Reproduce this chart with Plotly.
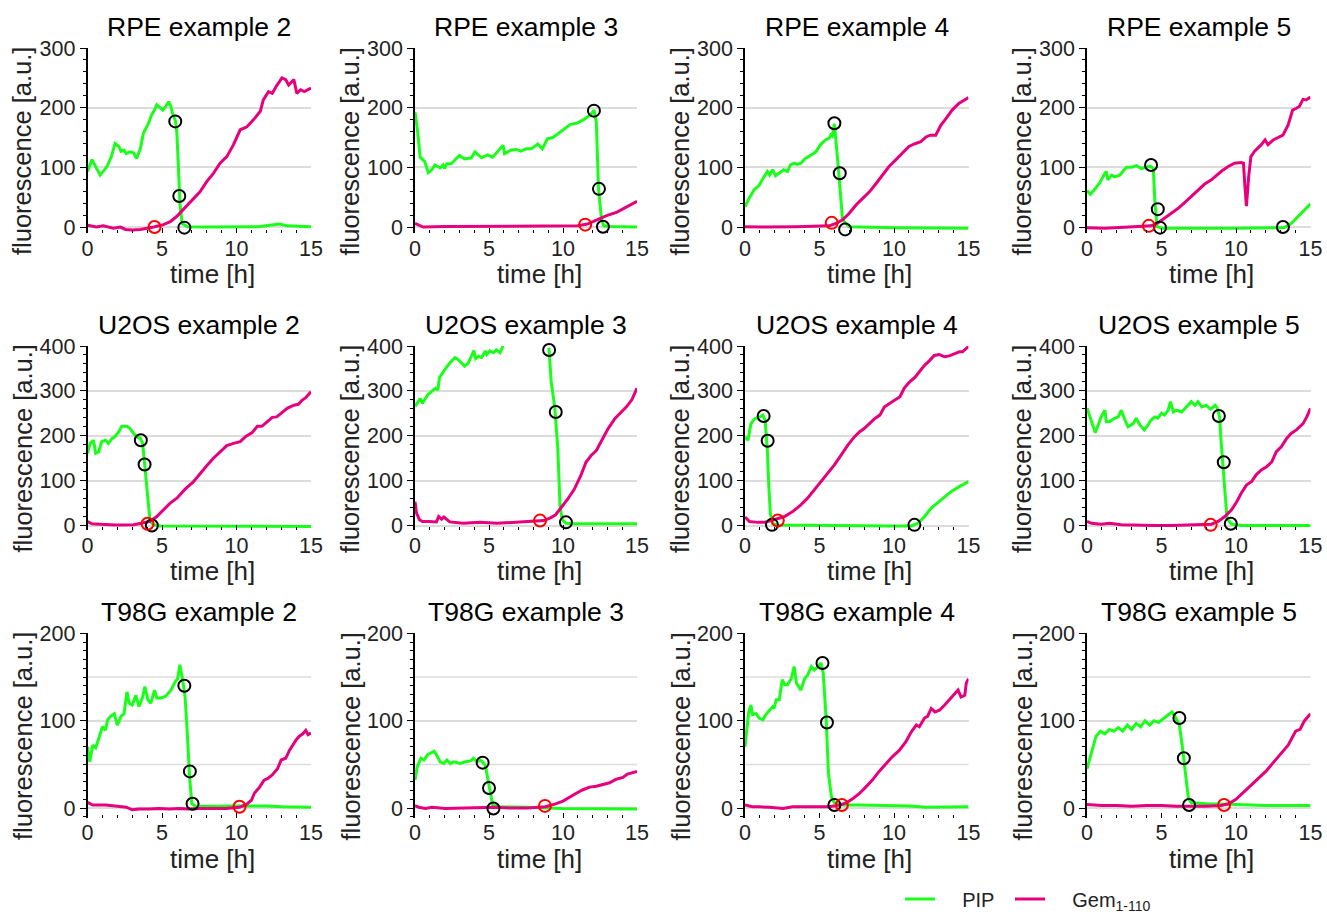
import plotly.graph_objects as go

W, H = 1327, 916
GREEN = '#1aff1a'
PINK = '#e6007e'
FONT = 'Liberation Sans, Arial, sans-serif'

# each series: (time [h], fluorescence [a.u.])
rpe2_pip = [(0, 93), (0.3, 113), (0.85, 87), (1.3, 101), (1.6, 118), (1.85, 140), (2.1, 135), (2.25, 127),
            (2.45, 129), (2.6, 123), (2.85, 126), (3.1, 124), (3.3, 115), (3.55, 132), (3.75, 157), (4.1, 174),
            (4.3, 188), (4.5, 196), (4.65, 205), (4.9, 199), (5.05, 196), (5.25, 202), (5.45, 210), (5.6, 202),
            (5.7, 191), (5.9, 178), (6.0, 157), (6.1, 101), (6.2, 40), (6.35, 6), (6.7, 0.5), (8, 0), (10, 0),
            (11.5, 0.5), (12.2, 3), (12.9, 5), (13.4, 2), (14, 1), (15, 0.5)]
rpe2_gem = [(0, 3), (0.3, 2), (0.6, 0), (1.05, 2), (1.75, -2), (2.2, 0), (2.55, -4), (3, -5), (3.55, -4),
            (4.45, 0), (5.1, 4), (5.55, 9), (6, 18), (6.45, 30), (7, 44), (7.55, 59), (8, 76), (8.45, 90),
            (8.9, 107), (9.35, 118), (9.8, 138), (10.25, 163), (10.7, 168), (11.15, 180), (11.6, 194),
            (11.8, 213), (12.15, 227), (12.4, 224), (12.7, 237), (13.05, 250), (13.3, 247), (13.5, 238),
            (13.85, 247), (14.05, 224), (14.3, 230), (14.55, 227), (15, 233)]
rpe2_pip_marks = [(5.89, 177), (6.16, 52), (6.5, -1)]
rpe2_gem_marks = [(4.5, 0)]

rpe3_pip = [(0, 193), (0.18, 160), (0.35, 117), (0.65, 110), (0.9, 91), (1.1, 95), (1.35, 104), (1.7, 99),
            (1.9, 104), (2.0, 98), (2.15, 106), (2.45, 106), (3.0, 120), (3.35, 114), (3.8, 116), (4.05, 126),
            (4.5, 116), (4.9, 121), (5.25, 117), (5.7, 129), (5.95, 137), (6.05, 123), (6.5, 129), (6.85, 130),
            (7.15, 127), (7.5, 131), (7.85, 131), (8.3, 139), (8.6, 131), (8.95, 148), (9.3, 150), (9.6, 155),
            (10.05, 163), (10.5, 172), (10.95, 174), (11.4, 180), (11.85, 188), (12.1, 196), (12.25, 176),
            (12.4, 64), (12.6, 13), (12.75, 2), (13.2, 1), (15, 0)]
rpe3_gem = [(0, 6), (0.55, 0), (2, 1), (4, 1), (6, 1.5), (8, 1.5), (10, 2), (11, 2), (11.65, 5), (12.3, 12),
            (12.95, 19), (13.65, 25), (14.3, 34), (15, 43)]
rpe3_pip_marks = [(12.09, 195), (12.43, 64), (12.7, 0.5)]
rpe3_gem_marks = [(11.5, 4)]

rpe4_pip = [(0, 34), (0.27, 48), (0.6, 62), (0.95, 70), (1.15, 79), (1.4, 90), (1.5, 93), (1.65, 87),
            (1.85, 96), (2.05, 86), (2.4, 93), (2.6, 96), (2.85, 93), (3.05, 104), (3.3, 107), (3.5, 105),
            (3.75, 107), (4.05, 115), (4.4, 120), (4.75, 126), (5.1, 139), (5.4, 146), (5.65, 149), (5.75, 154),
            (5.85, 152), (6.0, 173), (6.2, 118), (6.4, 51), (6.55, 12), (7, 0.5), (10.1, -1), (15, -2)]
rpe4_gem = [(0, 0.5), (1.2, 0), (3.4, 0.5), (5.2, 1), (5.65, 2), (6.1, 6), (6.55, 12), (7, 23), (7.45, 37),
            (7.9, 48), (8.35, 59), (8.8, 73), (9.2, 87), (9.65, 101), (10.1, 112), (10.55, 123), (11, 135),
            (11.45, 140), (11.8, 143), (12.15, 151), (12.45, 154), (12.8, 154), (13.15, 171), (13.5, 182),
            (13.9, 196), (14.35, 207), (15, 217)]
rpe4_pip_marks = [(6.0, 174), (6.36, 90), (6.72, -4)]
rpe4_gem_marks = [(5.82, 7)]

rpe5_pip = [(0, 61), (0.22, 55), (0.5, 63), (0.85, 74), (1.2, 90), (1.3, 93), (1.4, 79), (1.65, 87),
            (1.85, 84), (2.2, 87), (2.4, 93), (2.65, 100), (3.0, 100), (3.3, 103), (3.65, 98), (4.0, 101),
            (4.25, 102), (4.45, 98), (4.55, 45), (4.7, 0.5), (5, -2), (10, -2), (13.25, -1), (13.7, 6),
            (14.15, 17), (14.6, 28), (15, 39)]
rpe5_gem = [(0, -1), (1.2, -2), (2.5, -0.5), (3.65, 0.5), (4.3, 2), (4.75, 7), (5.2, 15), (5.65, 23),
            (6.1, 31), (6.55, 41), (7, 51), (7.45, 62), (7.9, 72), (8.35, 79), (8.7, 87), (9.0, 93), (9.45, 101),
            (9.9, 107), (10.35, 108), (10.5, 107), (10.6, 68), (10.7, 35), (10.85, 84), (11.0, 118),
            (11.25, 127), (11.7, 138), (11.95, 146), (12.15, 138), (12.5, 146), (12.8, 150), (13.15, 154),
            (13.5, 171), (13.8, 196), (14.05, 199), (14.25, 202), (14.5, 214), (14.7, 213), (15, 218)]
rpe5_pip_marks = [(4.3, 104), (4.75, 30), (4.9, -1), (13.15, 0)]
rpe5_gem_marks = [(4.15, 2)]

u2os2_pip = [(0, 161), (0.18, 183), (0.4, 190), (0.55, 161), (0.75, 164), (0.95, 187), (1.2, 190),
             (1.4, 183), (1.65, 194), (1.85, 198), (2.1, 209), (2.3, 221), (2.65, 221), (2.85, 216), (3.1, 205),
             (3.3, 198), (3.55, 194), (3.7, 183), (3.85, 131), (4.05, 57), (4.2, 9), (4.45, 1.5), (4.9, -1),
             (15, -2)]
u2os2_gem = [(0, 9), (0.3, 4), (0.85, 3), (1.95, 1), (3.1, 1.5), (3.75, 5), (4.2, 9), (4.65, 20), (5.1, 36),
             (5.55, 50), (6, 61), (6.55, 81), (7.1, 97), (7.55, 116), (8, 133), (8.45, 150), (8.9, 164),
             (9.35, 178), (9.8, 183), (10.25, 187), (10.6, 198), (11.05, 207), (11.4, 221), (11.7, 221),
             (12.05, 231), (12.4, 241), (12.7, 242), (13.05, 251), (13.4, 261), (13.85, 268), (14.15, 270),
             (14.4, 279), (14.65, 285), (15, 298)]
u2os2_pip_marks = [(3.58, 190), (3.83, 136), (4.32, 0)]
u2os2_gem_marks = [(4.03, 4)]

u2os3_pip = [(0, 265), (0.18, 276), (0.35, 283), (0.5, 272), (0.85, 291), (1.1, 298), (1.4, 306), (1.55, 302),
             (1.65, 329), (2.0, 347), (2.35, 362), (2.7, 374), (2.9, 370), (3.15, 362), (3.35, 355), (3.6, 362),
             (3.8, 377), (3.98, 390), (4.1, 372), (4.3, 377), (4.5, 374), (4.75, 389), (4.85, 381), (5.05, 389),
             (5.3, 385), (5.5, 391), (5.75, 385), (5.95, 400), (7.5, None), (9.05, 396), (9.2, 321),
             (9.45, 261), (9.65, 171), (9.8, 43), (9.95, 13), (10.2, 5), (10.8, 4), (15, 4)]
u2os3_gem = [(0, 53), (0.1, 28), (0.3, 13), (0.5, 9), (0.95, 9), (1.45, 8), (1.6, 20), (1.8, 14), (1.95, 19),
             (2.1, 14), (2.35, 8), (3.25, 5), (4.4, 7), (5.55, 5), (6.65, 7), (7.8, 9), (8.7, 11), (9.15, 17),
             (9.5, 24), (9.85, 39), (10.3, 58), (10.75, 80), (11.2, 111), (11.55, 141), (11.9, 156),
             (12.25, 167), (12.6, 189), (13.05, 216), (13.5, 238), (13.95, 253), (14.3, 265), (14.65, 280),
             (15, 306)]
u2os3_pip_marks = [(9.06, 391), (9.51, 253), (10.2, 7)]
u2os3_gem_marks = [(8.45, 11)]

u2os4_pip = [(0, 197), (0.2, 190), (0.4, 227), (0.65, 238), (1.0, 242), (1.2, 246), (1.35, 235), (1.5, 168),
             (1.6, 87), (1.7, 27), (1.85, 4), (2.2, 1), (9.8, -1), (11.15, -1), (11.6, 5), (12.05, 20),
             (12.5, 39), (13.15, 57), (13.85, 76), (14.3, 85), (15, 98)]
u2os4_gem = [(0, 19), (0.3, 9), (0.85, 7), (1.3, 7), (1.95, 13), (2.65, 20), (3.2, 31), (3.75, 46), (4.2, 61),
             (4.65, 79), (5.1, 98), (5.55, 116), (6, 135), (6.45, 157), (6.9, 179), (7.35, 198), (7.7, 209),
             (8.0, 216), (8.35, 227), (8.7, 238), (9.05, 246), (9.35, 264), (9.7, 272), (10.05, 279),
             (10.4, 287), (10.7, 307), (11.05, 320), (11.4, 330), (11.7, 342), (12.05, 357), (12.4, 368),
             (12.7, 379), (13.05, 381), (13.4, 376), (13.7, 378), (14.05, 383), (14.4, 387), (14.6, 387),
             (15, 399)]
u2os4_pip_marks = [(1.25, 244), (1.52, 189), (1.81, 1.5), (11.37, 1.5)]
u2os4_gem_marks = [(2.2, 11)]

u2os5_pip = [(0, 262), (0.3, 231), (0.55, 207), (0.75, 224), (0.95, 242), (1.2, 257), (1.3, 231), (1.5, 231),
             (1.85, 239), (2.1, 242), (2.3, 257), (2.55, 235), (2.75, 220), (3.1, 227), (3.3, 239), (3.55, 224),
             (3.85, 213), (4.1, 224), (4.3, 235), (4.55, 242), (4.75, 239), (5, 250), (5.2, 246), (5.45, 257),
             (5.6, 276), (5.8, 253), (6, 257), (6.35, 253), (6.65, 264), (7, 276), (7.25, 268), (7.45, 276),
             (7.7, 264), (8.0, 268), (8.3, 259), (8.6, 268), (8.75, 261), (8.9, 242), (9.0, 187), (9.15, 127),
             (9.3, 53), (9.4, 16), (9.7, 3), (10.35, 0), (15, 0)]
u2os5_gem = [(0, 9), (0.3, 5), (0.95, 3), (1.5, 5), (2.3, 1.5), (3.45, 0), (4.55, 0), (5.65, 0), (6.8, 1),
             (7.9, 1.5), (8.35, 3), (8.8, 9), (9.25, 20), (9.7, 35), (10.05, 53), (10.35, 72), (10.7, 90),
             (11.05, 98), (11.35, 113), (11.7, 124), (12.05, 131), (12.4, 142), (12.7, 164), (13.05, 176),
             (13.4, 194), (13.7, 205), (14.05, 213), (14.5, 227), (14.75, 242), (15, 261)]
u2os5_pip_marks = [(8.85, 244), (9.18, 141), (9.65, 4)]
u2os5_gem_marks = [(8.3, 1.5)]

t98g2_pip = [(0, 70), (0.15, 53), (0.35, 72), (0.55, 69), (0.8, 82), (1.0, 93), (1.2, 89), (1.35, 101),
             (1.55, 105), (1.8, 108), (2.0, 95), (2.25, 105), (2.45, 108), (2.65, 133), (2.8, 120), (3.0, 118),
             (3.25, 129), (3.45, 116), (3.7, 127), (3.85, 139), (4.05, 124), (4.25, 120), (4.5, 135),
             (4.65, 126), (4.95, 126), (5.25, 128), (5.6, 135), (5.9, 145), (6.05, 148), (6.2, 164), (6.4, 145),
             (6.55, 127), (6.7, 85), (6.85, 36), (7.0, 5), (7.25, 2), (8.6, 2), (9.75, 2.5), (12, 2.5),
             (13.1, 1.5), (15, 1)]
t98g2_gem = [(0, 6.5), (0.35, 3.5), (1.25, 3.5), (1.7, 2.5), (2.1, 1.5), (2.6, 1), (3.0, -2), (3.45, -1),
             (4.15, -1), (4.8, -0.5), (5.5, -1), (6.15, -0.5), (6.8, -1), (7.5, -0.5), (9.3, -0.5), (10.2, 1),
             (10.65, 4), (11.0, 9), (11.2, 17), (11.55, 24), (11.85, 32), (12.1, 34), (12.4, 38), (12.75, 45),
             (13, 55), (13.3, 57), (13.55, 66), (13.75, 72), (14, 78), (14.2, 82), (14.45, 85), (14.65, 89),
             (14.8, 84), (15, 86)]
t98g2_pip_marks = [(6.5, 140), (6.87, 42), (7.05, 5)]
t98g2_gem_marks = [(10.2, 1.5)]

t98g3_pip = [(0, 32), (0.15, 47), (0.4, 57), (0.6, 55), (0.85, 61), (1.05, 63), (1.3, 65), (1.45, 61),
             (1.7, 53), (1.95, 51), (2.15, 55), (2.4, 51), (2.6, 53), (2.85, 52), (3.05, 51), (3.4, 53),
             (3.75, 54), (3.95, 57), (4.2, 53), (4.4, 55), (4.55, 53), (4.75, 49), (4.9, 36), (5.1, 17),
             (5.25, 3.5), (5.65, 1.5), (7.65, 1), (9.9, -0.5), (12.15, -1), (15, -1)]
t98g3_gem = [(0, 2.7), (0.25, 1), (0.7, -0.5), (1.15, 1), (2.05, -0.5), (3.2, 0), (4.3, 0), (5.4, 1),
             (6.55, 0), (7.65, 0), (8.8, 1.5), (9.45, 4.5), (10, 8), (10.45, 13), (10.9, 17), (11.35, 21),
             (11.8, 24), (12.25, 25), (12.7, 27), (13.15, 29), (13.6, 33), (14.05, 35), (14.35, 39),
             (14.65, 40), (15, 42)]
t98g3_pip_marks = [(4.57, 52), (5.0, 23), (5.3, -0.5)]
t98g3_gem_marks = [(8.78, 2.5)]

t98g4_pip = [(0, 70), (0.1, 85), (0.25, 110), (0.4, 118), (0.5, 107), (0.75, 108), (0.95, 103), (1.2, 101),
             (1.4, 107), (1.65, 112), (1.85, 116), (1.95, 114), (2.1, 124), (2.3, 124), (2.5, 147), (2.65, 141),
             (2.85, 141), (3.1, 148), (3.3, 162), (3.45, 143), (3.75, 135), (4.0, 148), (4.2, 152), (4.45, 162),
             (4.65, 158), (4.9, 162), (5.1, 166), (5.25, 154), (5.45, 101), (5.6, 40), (5.8, 13), (6.0, 6),
             (6.55, 3.5), (7.7, 3.5), (9.9, 2.5), (11.05, 2.5), (12.15, 1), (13.3, 1), (15, 1.5)]
t98g4_gem = [(0, 3.5), (0.5, 1.5), (0.95, 1.5), (1.65, 1), (2.55, -0.5), (3.2, 1.5), (4.1, 1.5), (5, 1),
             (5.65, 1.5), (6.35, 3.5), (6.8, 6), (7.25, 11), (7.7, 17), (8.1, 24), (8.55, 32), (9, 42),
             (9.45, 51), (9.9, 59), (10.35, 66), (10.8, 76), (11.15, 87), (11.5, 95), (11.7, 93), (12.05, 103),
             (12.25, 105), (12.5, 114), (12.75, 110), (13.05, 112), (13.4, 118), (13.7, 124), (14.05, 131),
             (14.3, 135), (14.5, 127), (14.75, 129), (14.85, 143), (15, 148)]
t98g4_pip_marks = [(5.2, 166), (5.5, 98), (6.0, 3.5)]
t98g4_gem_marks = [(6.5, 3.5)]

t98g5_pip = [(0, 45), (0.3, 65), (0.6, 82), (0.9, 88), (1.2, 85), (1.5, 90), (1.8, 88), (2.1, 92), (2.4, 88),
             (2.7, 95), (3.0, 90), (3.3, 97), (3.6, 93), (3.9, 100), (4.2, 95), (4.5, 100), (4.8, 98),
             (5.1, 102), (5.4, 106), (5.7, 110), (5.9, 105), (6.2, 95), (6.4, 70), (6.6, 40), (6.8, 12),
             (7.0, 6), (8, 5), (10, 4), (12, 3), (15, 3)]
t98g5_gem = [(0, 4), (1, 3), (2, 3), (3, 2), (4, 3), (5, 3), (6, 2), (7, 2), (8, 2), (9, 3), (9.5, 5), (10, 10),
             (10.5, 18), (11, 25), (11.5, 33), (12, 42), (12.5, 52), (13, 62), (13.5, 72), (14, 88), (14.3, 90),
             (14.6, 100), (15, 108)]
t98g5_pip_marks = [(6.2, 103), (6.5, 57), (6.85, 3.5)]
t98g5_gem_marks = [(9.2, 3.5)]

panels = [
    ("RPE example 2", rpe2_pip, rpe2_gem, rpe2_pip_marks, rpe2_gem_marks),
    ("RPE example 3", rpe3_pip, rpe3_gem, rpe3_pip_marks, rpe3_gem_marks),
    ("RPE example 4", rpe4_pip, rpe4_gem, rpe4_pip_marks, rpe4_gem_marks),
    ("RPE example 5", rpe5_pip, rpe5_gem, rpe5_pip_marks, rpe5_gem_marks),
    ("U2OS example 2", u2os2_pip, u2os2_gem, u2os2_pip_marks, u2os2_gem_marks),
    ("U2OS example 3", u2os3_pip, u2os3_gem, u2os3_pip_marks, u2os3_gem_marks),
    ("U2OS example 4", u2os4_pip, u2os4_gem, u2os4_pip_marks, u2os4_gem_marks),
    ("U2OS example 5", u2os5_pip, u2os5_gem, u2os5_pip_marks, u2os5_gem_marks),
    ("T98G example 2", t98g2_pip, t98g2_gem, t98g2_pip_marks, t98g2_gem_marks),
    ("T98G example 3", t98g3_pip, t98g3_gem, t98g3_pip_marks, t98g3_gem_marks),
    ("T98G example 4", t98g4_pip, t98g4_gem, t98g4_pip_marks, t98g4_gem_marks),
    ("T98G example 5", t98g5_pip, t98g5_gem, t98g5_pip_marks, t98g5_gem_marks),
]

# pixel geometry of the panel grid
col_left = [87.5, 415, 745, 1087]
col_right = [311, 637, 968.5, 1310.5]
row_top = [48, 346, 633.3]
row_bottom = [233, 530, 817.7]
row_range = [[-10, 300], [-10, 400], [-11, 200]]
row_tickvals = [[0, 100, 200, 300], [0, 100, 200, 300, 400], [0, 100, 200]]
row_minor = [20, 20, 10]
row_extra_grid = [[], [], [50, 150]]


def px_x(v):
    return v / W


def px_y(v):
    return 1 - v / H


def xy(pairs):
    return [p[0] for p in pairs], [p[1] for p in pairs]


fig = go.Figure()
annotations = []
shapes = []
layout = {}

for i, (title, pip, gem, pip_marks, gem_marks) in enumerate(panels):
    r, c = divmod(i, 4)
    n = '' if i == 0 else str(i + 1)
    xa, ya = 'x' + n, 'y' + n

    t, v = xy(pip)
    fig.add_trace(go.Scatter(x=t, y=v, mode='lines', line=dict(color=GREEN, width=3), name='    PIP',
                             showlegend=(i == 0), legend='legend', connectgaps=False, xaxis=xa, yaxis=ya))
    t, v = xy(gem)
    fig.add_trace(go.Scatter(x=t, y=v, mode='lines', line=dict(color=PINK, width=3),
                             name='    Gem<sub>1-110</sub>', showlegend=(i == 0), legend='legend2',
                             xaxis=xa, yaxis=ya))
    t, v = xy(pip_marks)
    fig.add_trace(go.Scatter(x=t, y=v, mode='markers', showlegend=False, cliponaxis=False,
                             marker=dict(symbol='circle-open', size=12, color='black', line=dict(width=2)),
                             xaxis=xa, yaxis=ya))
    t, v = xy(gem_marks)
    fig.add_trace(go.Scatter(x=t, y=v, mode='markers', showlegend=False, cliponaxis=False,
                             marker=dict(symbol='circle-open', size=12, color='red', line=dict(width=2)),
                             xaxis=xa, yaxis=ya))

    layout['xaxis' + n] = dict(
        domain=[px_x(col_left[c]), px_x(col_right[c])], anchor=ya, range=[0, 15], automargin=False,
        tickvals=[0, 5, 10, 15], ticks='inside', ticklen=5, tickwidth=1.2, tickcolor='black',
        minor=dict(dtick=1, ticks='inside', ticklen=3, tickcolor='black'),
        showline=False, showgrid=False, zeroline=False,
        tickfont=dict(size=21.5, color='#222222', family=FONT), fixedrange=True)
    layout['yaxis' + n] = dict(
        domain=[px_y(row_bottom[r]), px_y(row_top[r])], anchor=xa, range=row_range[r], automargin=False,
        tickvals=row_tickvals[r], ticks='outside', ticklen=6, tickwidth=1.2,
        tickcolor='black', minor=dict(dtick=row_minor[r], ticks='outside', ticklen=3, tickcolor='black'),
        showline=True, linecolor='black', linewidth=1.5,
        showgrid=True, gridcolor='#dcdcdc', gridwidth=1.5, zeroline=False,
        tickfont=dict(size=21.5, color='#222222', family=FONT), fixedrange=True)

    for g in row_extra_grid[r]:
        shapes.append(dict(type='line', xref=xa + ' domain', yref=ya, x0=0, x1=1, y0=g, y1=g,
                           line=dict(color='#dcdcdc', width=1.5), layer='below'))

    cx = (col_left[c] + col_right[c]) / 2
    cy = (row_top[r] + row_bottom[r]) / 2
    annotations.append(dict(text=title, x=px_x(cx), y=px_y(row_top[r] - 21), xref='paper', yref='paper',
                            showarrow=False, xanchor='center', yanchor='middle',
                            font=dict(size=26.5, color='black', family=FONT)))
    annotations.append(dict(text='fluorescence [a.u.]', textangle=-90, x=px_x(col_left[c] - 65),
                            y=px_y(cy + 11), xref='paper', yref='paper', showarrow=False,
                            xanchor='center', yanchor='middle',
                            font=dict(size=25.5, color='#222222', family=FONT)))
    annotations.append(dict(text='time [h]', x=px_x(cx + 13), y=px_y(row_bottom[r] + 41), xref='paper',
                            yref='paper', showarrow=False, xanchor='center', yanchor='middle',
                            font=dict(size=26, color='#222222', family=FONT)))

legend_style = dict(orientation='h', y=px_y(899), xanchor='left', yanchor='middle',
                    font=dict(size=20, color='#222222', family=FONT), bgcolor='rgba(0,0,0,0)')

fig.update_layout(
    width=W, height=H, margin=dict(l=0, r=0, t=0, b=0, pad=0, autoexpand=False),
    paper_bgcolor='white', plot_bgcolor='white',
    annotations=annotations, shapes=shapes,
    showlegend=True,
    legend=dict(x=px_x(900), **legend_style),
    legend2=dict(x=px_x(1010), **legend_style),
    **layout
)

# the page body margin would otherwise shift the figure by 8 px
fig.write_html("out.html", config={'displayModeBar': False},
               post_script="document.body.style.margin = '0px';")
